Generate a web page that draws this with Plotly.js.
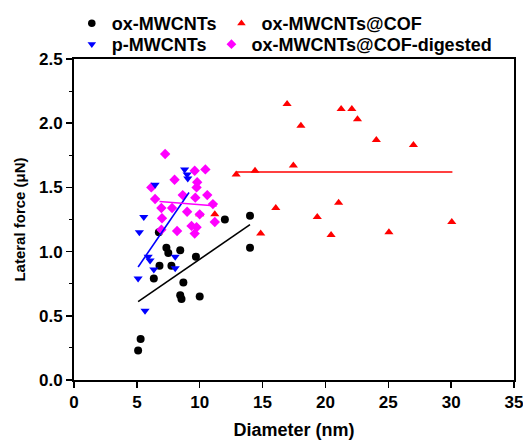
<!DOCTYPE html>
<html>
<head>
<meta charset="utf-8">
<script src="https://cdn.plot.ly/plotly-3.0.1.min.js"></script>
<style>
  html, body { margin: 0; padding: 0; background: #fff; }
  #chart { width: 523px; height: 442px; }
</style>
</head>
<body>
<div id="chart"></div>
<script>
// Lateral force vs. diameter for the four nanotube samples
const oxX = [5.1, 5.3, 6.35, 6.8, 6.75, 7.35, 7.5, 7.75, 8.45, 8.7, 8.45, 8.55, 10.0, 9.7, 12.0, 14.0, 14.0];
const oxY = [0.23, 0.32, 0.79, 0.89, 1.15, 1.03, 0.99, 0.89, 1.01, 0.76, 0.66, 0.63, 0.65, 0.96, 1.25, 1.28, 1.03];

const cofX = [12.9, 14.4, 17.45, 16.95, 18.05, 21.25, 22.1, 22.55, 24.05, 27.0, 16.05, 21.05, 19.35, 30.05, 14.85, 20.45, 25.05, 11.2, 10.0];
const cofY = [1.60, 1.63, 1.67, 2.15, 1.98, 2.11, 2.11, 2.03, 1.87, 1.83, 1.34, 1.38, 1.27, 1.23, 1.14, 1.13, 1.15, 1.29, 1.29];

const pX = [5.1, 5.2, 5.55, 5.65, 5.9, 6.05, 6.35, 6.45, 8.05, 8.05, 8.8, 9.0, 9.05];
const pY = [0.79, 1.15, 1.27, 0.54, 0.96, 0.93, 0.86, 1.52, 0.96, 0.87, 1.64, 1.60, 1.57];

const digX = [7.25, 6.15, 8.0, 9.6, 10.45, 9.8, 9.75, 8.65, 9.65, 10.6, 6.45, 11.05, 6.95, 7.8, 9.0, 10.0, 7.0, 11.2, 9.35, 9.75, 9.6, 8.2, 6.95];
const digY = [1.76, 1.50, 1.56, 1.63, 1.64, 1.54, 1.50, 1.44, 1.42, 1.44, 1.41, 1.37, 1.34, 1.34, 1.31, 1.29, 1.26, 1.23, 1.20, 1.19, 1.14, 1.16, 1.17];

// Linear fit segments for each series
const oxFitX = [5.1, 14.0];
const oxFitY = [0.61, 1.21];
const cofFitX = [12.9, 30.1];
const cofFitY = [1.62, 1.62];
const pFitX = [5.1, 9.15];
const pFitY = [0.88, 1.46];
const digFitX = [6.8, 11.35];
const digFitY = [1.39, 1.355];

const seriesNames = ['ox-MWCNTs', 'ox-MWCNTs@COF', 'p-MWCNTs', 'ox-MWCNTs@COF-digested'];

const FONT = 'Liberation Sans, Arial, sans-serif';

const styles = {
  ox:  {symbol: 'circle', color: '#000000', size: 8},
  cof: {symbol: 'triangle-up', color: '#ff0000', size: 8},
  p:   {symbol: 'triangle-down', color: '#0000ff', size: 8},
  dig: {symbol: 'diamond', color: '#ff00ff', size: 8}
};

function pts(x, y, st) {
  return {x: x, y: y, type: 'scatter', mode: 'markers', showlegend: false, hoverinfo: 'skip',
          marker: {symbol: st.symbol, size: st.size, color: st.color, line: {width: 0}}};
}
function fit(x, y, color) {
  return {x: x, y: y, type: 'scatter', mode: 'lines', showlegend: false, hoverinfo: 'skip',
          line: {color: color, width: 1.6}};
}
// legend-only entries with small key symbols
function key(name, st, legendId, rank) {
  return {x: [null], y: [null], name: name, type: 'scatter', mode: 'markers',
          legend: legendId, legendrank: rank,
          marker: {symbol: st.symbol, size: 7.5, color: st.color, line: {width: 0}}};
}

const traces = [
  pts(oxX, oxY, styles.ox),
  pts(cofX, cofY, styles.cof),
  pts(digX, digY, styles.dig),
  pts(pX, pY, styles.p),
  fit(oxFitX, oxFitY, styles.ox.color),
  fit(cofFitX, cofFitY, styles.cof.color),
  fit(pFitX, pFitY, styles.p.color),
  fit(digFitX, digFitY, styles.dig.color),
  key(seriesNames[0], styles.ox, 'legend', 1),
  key(seriesNames[1], styles.cof, 'legend', 2),
  key(seriesNames[2], styles.p, 'legend2', 1),
  key(seriesNames[3], styles.dig, 'legend2', 2)
];

// two single-row legends stacked above the plot
const legendBase = {
  orientation: 'h', xanchor: 'left', yanchor: 'top', x: -0.005,
  bgcolor: 'rgba(0,0,0,0)', borderwidth: 0, traceorder: 'normal',
  font: {family: FONT, size: 18, color: '#000', weight: 'bold'}
};

const layout = {
  width: 523, height: 442,
  margin: {l: 74, r: 9, t: 59, b: 62, pad: 0, autoexpand: false},
  paper_bgcolor: '#ffffff', plot_bgcolor: '#ffffff',
  font: {family: FONT, color: '#000'},
  showlegend: true,
  legend: Object.assign({}, legendBase, {y: 1.168}),
  legend2: Object.assign({}, legendBase, {y: 1.1028}),
  xaxis: {
    range: [0, 35], tickmode: 'linear', tick0: 0, dtick: 5,
    showgrid: false, zeroline: false,
    showline: true, linecolor: '#000', linewidth: 2, mirror: true,
    ticks: 'outside', ticklen: 6, tickwidth: 1.5, tickcolor: '#000',
    ticklabeloverflow: 'allow',
    tickfont: {family: FONT, size: 17, color: '#000', weight: 'bold'},
    title: {text: 'Diameter (nm)', standoff: 12, font: {family: FONT, size: 18, color: '#000', weight: 'bold'}}
  },
  yaxis: {
    range: [0, 2.5], tickmode: 'linear', tick0: 0, dtick: 0.5, tickformat: '.1f',
    showgrid: false, zeroline: false,
    showline: true, linecolor: '#000', linewidth: 2, mirror: true,
    ticks: 'outside', ticklen: 6, tickwidth: 1.5, tickcolor: '#000',
    minor: {dtick: 0.25, ticks: 'outside', ticklen: 3, tickwidth: 1.2, tickcolor: '#000', showgrid: false},
    tickfont: {family: FONT, size: 17, color: '#000', weight: 'bold'},
    title: {text: 'Lateral force (\u03bcN)', standoff: 10, font: {family: FONT, size: 15, color: '#000', weight: 'bold'}}
  }
};

Plotly.newPlot('chart', traces, layout, {displayModeBar: false, staticPlot: true});
</script>
</body>
</html>
